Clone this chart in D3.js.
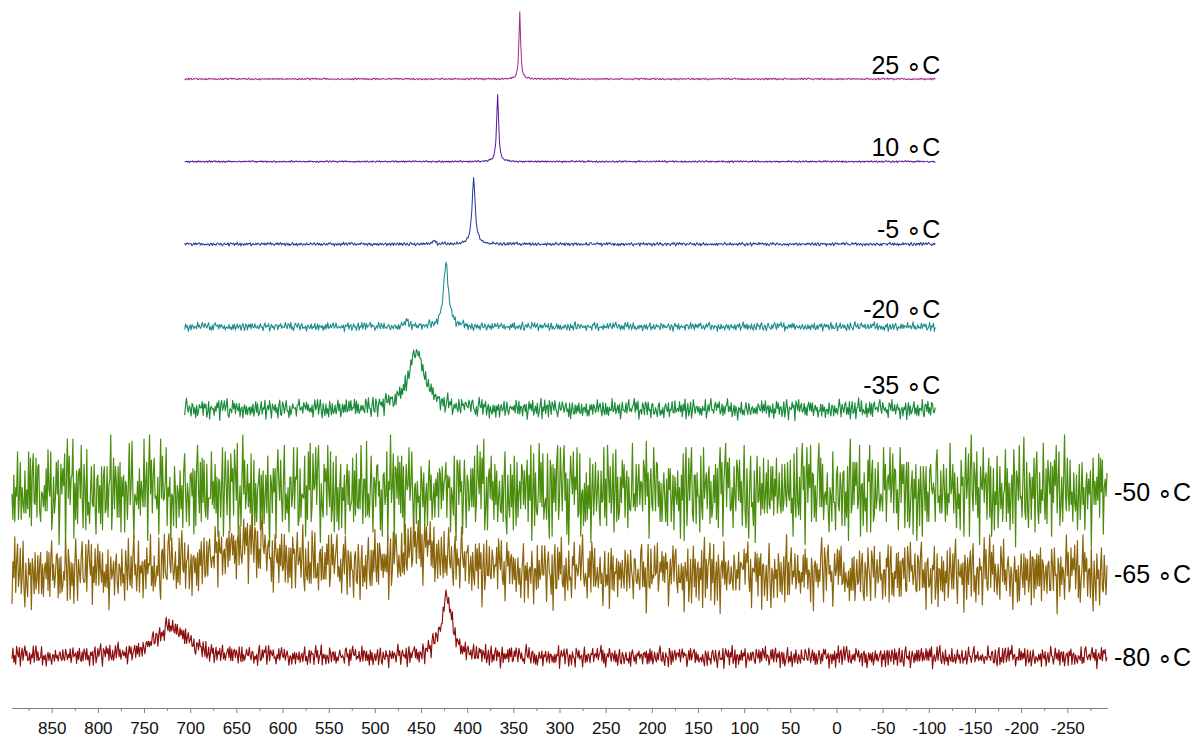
<!DOCTYPE html>
<html>
<head>
<meta charset="utf-8">
<script src="https://cdn.jsdelivr.net/npm/d3@7"></script>
<style>
  html, body { margin: 0; padding: 0; background: #fff; }
  svg { display: block; font-family: "Liberation Sans", Arial, Helvetica, sans-serif; }
</style>
</head>
<body>
<svg id="chart" width="1194" height="742"></svg>
<script>
// Variable-temperature spectra, stacked from warmest (top) to coldest (bottom).
const temperatures = ["25", "10", "-5", "-20", "-35", "-50", "-65", "-80"];
const traceColors = ["#a2288c", "#561c96", "#263a98", "#1b8a8a", "#17893a", "#4a8c0c", "#8a640a", "#8a0c0c"];

// Spectral window of each acquisition (ppm, high -> low).
const windowHigh = [706, 706, 706, 706, 706, 893, 893, 893];
const windowLow = [-107, -107, -107, -107, -107, -293, -293, -293];

// Resonances per temperature: centre (ppm), full width at half height (ppm), relative height.
const peakCenters = [[343], [367], [393, 436], [423, 466], [455], [], [640, 445], [721, 422]];
const peakWidths = [[2.2], [2.6], [4.2, 3], [6.5, 4], [21], [], [95, 72], [40, 15]];
const peakHeights = [[1.0], [1.0], [0.97, 0.05], [0.93, 0.1], [0.88], [], [0.4, 0.36], [0.45, 0.86]];

// Baseline noise level of each spectrum (relative to the main peak height).
const noiseLevels = [0.016, 0.016, 0.03, 0.075, 0.17, 0.85, 0.59, 0.18];

// Recorded baseline noise samples.
const noiseA = [3,-7,5,-2,8,-9,1,6,-4,-1,7,-6,2,9,-3,-8,4,0,-5,6,-2,3,-9,7,1,-4,8,-6,-1,5,-7,2,9,-3,4,-8,0,6,-5,3,-2,7,-9,1,8,-4,5,-6,-1,2,9,-7,4,-3,6,-8,0,3,-5,7,-1,-9,5,2,-6,8,-3,1,-7,4,9,-2,-5,6,0,-8,3,7,-4,1,-6,5,-9,2,8,-1,-3,6,-7,4,0,9,-5,-2,7,-8,3,1,-4,5,-6];
const noiseB = [-4,6,1,-8,3,9,-2,-6,5,0,-9,7,2,-3,8,-5,4,-1,6,-7,1,9,-4,3,-8,5,-2,0,7,-6,2,-9,4,8,-3,-5,6,1,-7,3,9,-1,-4,5,-8,2,7,-6,0,4,-2,8,-9,3,-5,6,1,-3,9,-7,2,5,-4,-8,7,0,-1,6,-6,3,8,-2,-9,4,1,-5,7,-3,5,-8,2,9,-4,0,6,-7,3,-1,-2];

// Axis tick values (ppm).
const majorTicks = [850, 800, 750, 700, 650, 600, 550, 500, 450, 400, 350, 300, 250, 200, 150, 100, 50, 0, -50, -100, -150, -200, -250];
const minorTicks = [875, 825, 775, 725, 675, 625, 575, 525, 475, 425, 375, 325, 275, 225, 175, 125, 75, 25, -25, -75, -125, -175, -225, -275];
const axisDomain = [893, -293];

const svg = d3.select("#chart");

const x = d3.scaleLinear().domain(axisDomain).range([12, 1107]);
const offset = d3.scalePoint().domain(temperatures).range([79, 657]);
const amp = d3.scaleLinear().domain([0, 1]).range([0, 67]);
const strokeWidth = d3.scaleLinear().domain([0, 0.2, 0.9]).range([1, 1.15, 1.2]).clamp(true);

// Baseline noise at sample k of spectrum i, mixed from the two recorded sample sets.
function noiseAt(k, i) {
  const a = noiseA[(k + i * 17) % noiseA.length];
  const b = noiseB[(k * 3 + i * 29) % noiseB.length];
  return (2 * a + b) / 27;
}

function spectrum(i) {
  const pts = d3.range(windowHigh[i], windowLow[i] - 0.001, -1);
  peakCenters[i].forEach(c => { if (!pts.includes(c)) pts.push(c); });
  pts.sort((a, b) => b - a);
  return pts.map((ppm, k) => {
    let v = 0;
    peakCenters[i].forEach((c, j) => {
      const h = (ppm - c) / (peakWidths[i][j] / 2);
      v += peakHeights[i][j] / (1 + h * h);
    });
    v += noiseLevels[i] * noiseAt(k, i);
    return { ppm, v };
  });
}

const line = d3.line().x(d => x(d.ppm)).y(d => d.y);

temperatures.forEach((t, i) => {
  const base = offset(t);
  const data = spectrum(i).map(d => ({ ppm: d.ppm, y: base - amp(d.v) }));
  svg.append("path")
    .attr("d", line(data))
    .attr("fill", "none")
    .attr("stroke", traceColors[i])
    .attr("stroke-width", strokeWidth(noiseLevels[i]))
    .attr("stroke-linejoin", "round");

  const label = svg.append("text")
    .attr("font-size", 25)
    .attr("fill", "#000")
    .text(t + " \u2218C");
  if (i < 5) {
    label.attr("x", x(windowLow[i]) + 5)
      .attr("y", base - 4 - amp(noiseLevels[i]))
      .attr("text-anchor", "end");
  } else {
    label.attr("x", x(windowLow[i]) + 7)
      .attr("y", base)
      .attr("dy", "0.35em")
      .attr("text-anchor", "start");
  }
});

// Chemical shift axis
const axisY = 708;
const minorAxis = d3.axisBottom(x).tickValues(minorTicks).tickSize(3).tickSizeOuter(0).tickFormat("");
const majorAxis = d3.axisBottom(x).tickValues(majorTicks).tickSize(5).tickSizeOuter(0).tickPadding(9).tickFormat(d => String(d));

const gMinor = svg.append("g").attr("transform", `translate(0,${axisY})`).call(minorAxis);
const gMajor = svg.append("g").attr("transform", `translate(0,${axisY})`).call(majorAxis);
[gMinor, gMajor].forEach(g => {
  g.select(".domain").attr("stroke", "#808080").attr("stroke-width", 1.2);
  g.selectAll(".tick line").attr("stroke", "#808080").attr("stroke-width", 1);
});
gMajor.selectAll(".tick text")
  .attr("font-size", 17)
  .attr("font-family", "Liberation Sans, Arial, sans-serif")
  .attr("fill", "#111");
</script>
</body>
</html>
